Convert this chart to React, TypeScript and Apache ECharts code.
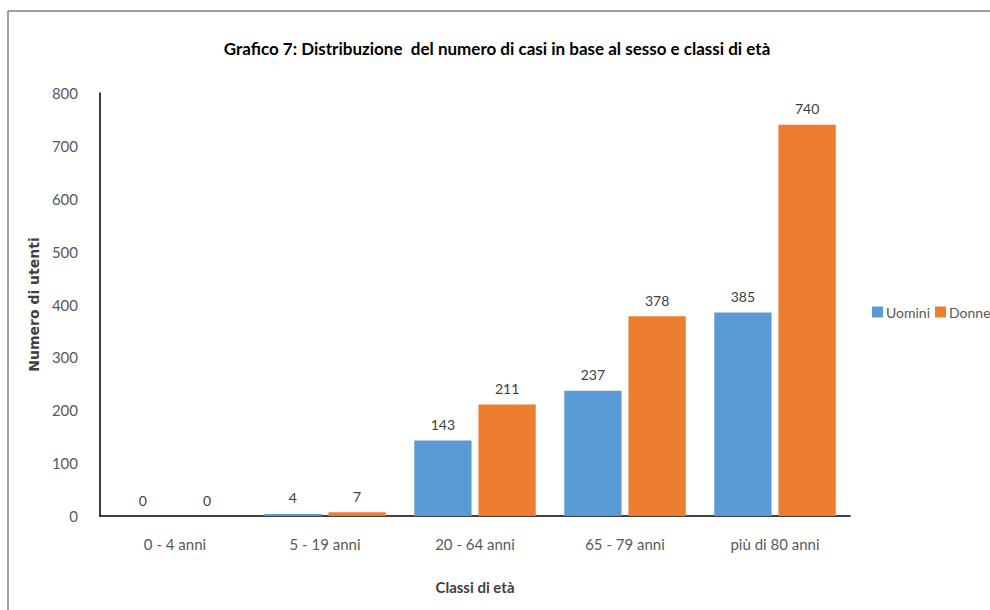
import React, { useEffect, useRef } from "react";
import * as echarts from "echarts";

const categories = ["0 - 4 anni", "5 - 19 anni", "20 - 64 anni", "65 - 79 anni", "più di 80 anni"];
const uomini = [0, 4, 143, 237, 385];
const donne = [0, 7, 211, 378, 740];
const seriesNames = ["Uomini", "Donne"];
const titleText = "Grafico 7: Distribuzione  del numero di casi in base al sesso e classi di età";
const yAxisName = "Numero di utenti";
const xAxisName = "Classi di età";

const FONT = "Lato, 'Open Sans', sans-serif";

export default function App() {
  const ref = useRef<HTMLDivElement>(null);
  useEffect(() => {
    document.body.style.margin = "0";
    const chart = echarts.init(ref.current!, null, { renderer: "svg" });
    const labelStyle = {
      show: true,
      position: "top" as const,
      distance: 9,
      color: "#404040",
      fontSize: 14,
      fontFamily: FONT,
    };
    chart.setOption({
      animation: false,
      backgroundColor: "#ffffff",
      title: {
        text: titleText,
        left: 492,
        textAlign: "center",
        top: 35,
        textStyle: { fontFamily: FONT, fontWeight: "bold", fontSize: 17, color: "#000000" },
      },
      legend: {
        data: seriesNames,
        orient: "horizontal",
        left: 872,
        top: 305,
        width: 400,
        padding: 0,
        itemWidth: 11,
        itemHeight: 11,
        itemGap: 5,
        icon: "rect",
        textStyle: { fontFamily: FONT, fontSize: 14, color: "#595959", padding: [0, 0, 0, -2] },
      },
      grid: { left: 100, right: 140, top: 93, bottom: 94, containLabel: false },
      xAxis: {
        type: "category",
        data: categories,
        name: xAxisName,
        nameLocation: "middle",
        nameGap: 63,
        nameTextStyle: { fontFamily: FONT, fontWeight: "bold", fontSize: 15, color: "#404040" },
        axisLine: { lineStyle: { color: "#000000", width: 1.5 } },
        axisTick: { show: false },
        axisLabel: { fontFamily: FONT, fontSize: 15, color: "#595959", margin: 20 },
      },
      yAxis: {
        type: "value",
        min: 0,
        max: 800,
        interval: 100,
        name: yAxisName,
        nameLocation: "middle",
        nameGap: 52,
        nameTextStyle: { fontFamily: "'DejaVu Sans', sans-serif", fontWeight: "bold", fontSize: 14, color: "#404040" },
        axisLine: { show: true, lineStyle: { color: "#000000", width: 1.5 } },
        axisTick: { show: false },
        splitLine: { show: false },
        axisLabel: { fontFamily: FONT, fontSize: 15, color: "#595959", margin: 22 },
      },
      series: [
        {
          name: seriesNames[0],
          type: "bar",
          data: uomini,
          itemStyle: { color: "#5B9BD5" },
          barGap: "12%",
          barCategoryGap: "19%",
          label: labelStyle,
        },
        {
          name: seriesNames[1],
          type: "bar",
          data: donne,
          itemStyle: { color: "#ED7D31" },
          barGap: "12%",
          barCategoryGap: "19%",
          label: labelStyle,
        },
      ],
      graphic: [
        { type: "line", shape: { x1: 8, y1: 11, x2: 990, y2: 11 }, style: { stroke: "#7f7f7f", lineWidth: 1.5 } },
        { type: "line", shape: { x1: 8, y1: 11, x2: 8, y2: 610 }, style: { stroke: "#7f7f7f", lineWidth: 1.5 } },
      ],
    });
    return () => chart.dispose();
  }, []);
  return <div ref={ref} style={{ width: 990, height: 610 }} />;
}
